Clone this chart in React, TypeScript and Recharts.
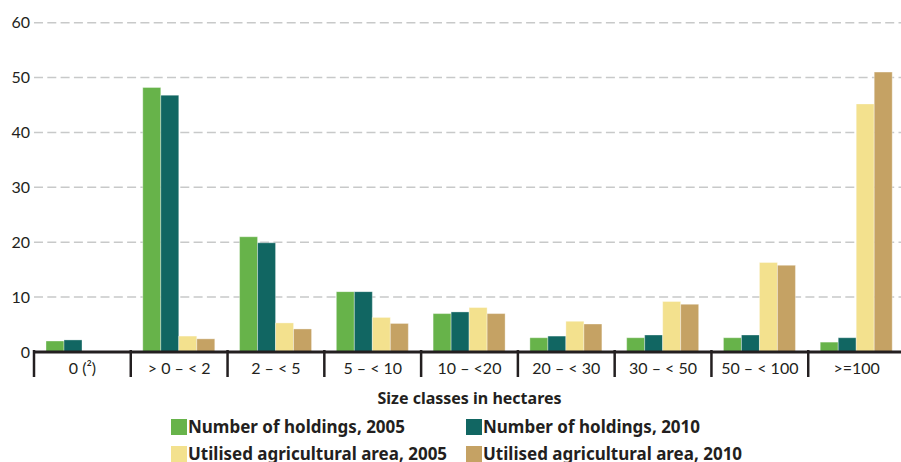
import React from 'react';
import { BarChart, Bar, XAxis, YAxis, CartesianGrid, Legend } from 'recharts';

const categories = ['0 (²)', '> 0 – < 2', '2 – < 5', '5 – < 10', '10 – <20', '20 – < 30', '30 – < 50', '50 – < 100', '>=100'];
const holdings2005 = [2.0, 48.2, 21.0, 11.0, 7.0, 2.6, 2.6, 2.6, 1.8];
const holdings2010 = [2.2, 46.8, 19.9, 11.0, 7.3, 2.9, 3.1, 3.1, 2.6];
const uaa2005 = [null, 2.9, 5.3, 6.3, 8.1, 5.6, 9.2, 16.3, 45.2];
const uaa2010 = [null, 2.4, 4.2, 5.2, 7.0, 5.1, 8.7, 15.8, 51.0];
const yTicks = [0, 10, 20, 30, 40, 50, 60];

const seriesNames = [
  'Number of holdings, 2005',
  'Number of holdings, 2010',
  'Utilised agricultural area, 2005',
  'Utilised agricultural area, 2010',
];
const colors = ['#67b34a', '#116662', '#f3e18e', '#c5a264'];

const data = categories.map((c, i) => ({
  name: c,
  h05: holdings2005[i],
  h10: holdings2010[i],
  u05: uaa2005[i],
  u10: uaa2010[i],
}));

const W = 905;
const H = 462;
const LEFT = 34;
const BW = (W - LEFT) / categories.length;
const FONT = 'Lato, "Noto Sans", sans-serif';
const BOLD = '"Noto Sans", "Open Sans", sans-serif';
const INK = '#231f20';

const XTick = (props: any) => {
  const { x, y, payload } = props;
  const bx = x - BW / 2;
  return (
    <g>
      <line x1={bx} y1={y - 2} x2={bx} y2={y + 25} stroke={INK} strokeWidth={2.5} />
      <text x={x} y={y + 22} textAnchor="middle" fontSize={16} fontFamily={FONT} fill={INK}>
        {payload.value}
      </text>
    </g>
  );
};

const LegendContent = () => {
  const pos = [
    { left: 171, top: 15 },
    { left: 466, top: 15 },
    { left: 171, top: 42 },
    { left: 466, top: 42 },
  ];
  const order = [0, 1, 2, 3];
  return (
    <div style={{ position: 'relative', width: W, height: 58 }}>
      {order.map((k) => (
        <div
          key={k}
          style={{
            position: 'absolute',
            left: pos[k].left,
            top: pos[k].top,
            display: 'flex',
            alignItems: 'center',
            height: 16,
          }}
        >
          <div style={{ width: 16, height: 16, background: colors[k] }} />
          <span
            style={{
              marginLeft: 1,
              fontFamily: BOLD,
              fontWeight: 700,
              fontSize: 17,
              color: INK,
              lineHeight: '16px',
              whiteSpace: 'nowrap',
            }}
          >
            {seriesNames[k]}
          </span>
        </div>
      ))}
    </div>
  );
};

export default function App() {
  const keys = ['h05', 'h10', 'u05', 'u10'];
  return (
    <div style={{ position: 'absolute', left: 0, top: 0, width: 901, height: H, overflow: 'hidden', background: '#fff' }}>
      <BarChart
        width={W}
        height={H}
        data={data}
        margin={{ top: 22.7, right: 0, bottom: 0, left: 0 }}
        barGap={0}
      >
        <CartesianGrid
          vertical={false}
          stroke="#c8c9c9"
          strokeWidth={1.5}
          strokeDasharray="9 4.3"
        />
        <YAxis
          domain={[0, 60]}
          ticks={yTicks}
          width={LEFT}
          axisLine={false}
          tickLine={false}
          tickSize={0}
          tickMargin={4}
          interval={0}
          tick={{ fontSize: 16, fontFamily: FONT, fill: INK }}
        />
        <XAxis
          dataKey="name"
          height={52}
          interval={0}
          tickLine={false}
          tickSize={0}
          tickMargin={0}
          axisLine={{ stroke: INK, strokeWidth: 3 }}
          tick={<XTick />}
          label={{
            value: 'Size classes in hectares',
            position: 'insideBottom',
            offset: 0,
            style: { fontSize: 16, fontWeight: 700, fontFamily: BOLD, fill: INK },
          }}
        />
        <Legend verticalAlign="bottom" content={<LegendContent />} wrapperStyle={{ left: 0 }} />
        {keys.map((k, i) => (
          <Bar
            key={k}
            dataKey={k}
            name={seriesNames[i]}
            fill={colors[i]}
            barSize={18}
            stroke="rgba(255,255,255,0.35)"
            strokeWidth={1}
            isAnimationActive={false}
          />
        ))}
      </BarChart>
    </div>
  );
}
